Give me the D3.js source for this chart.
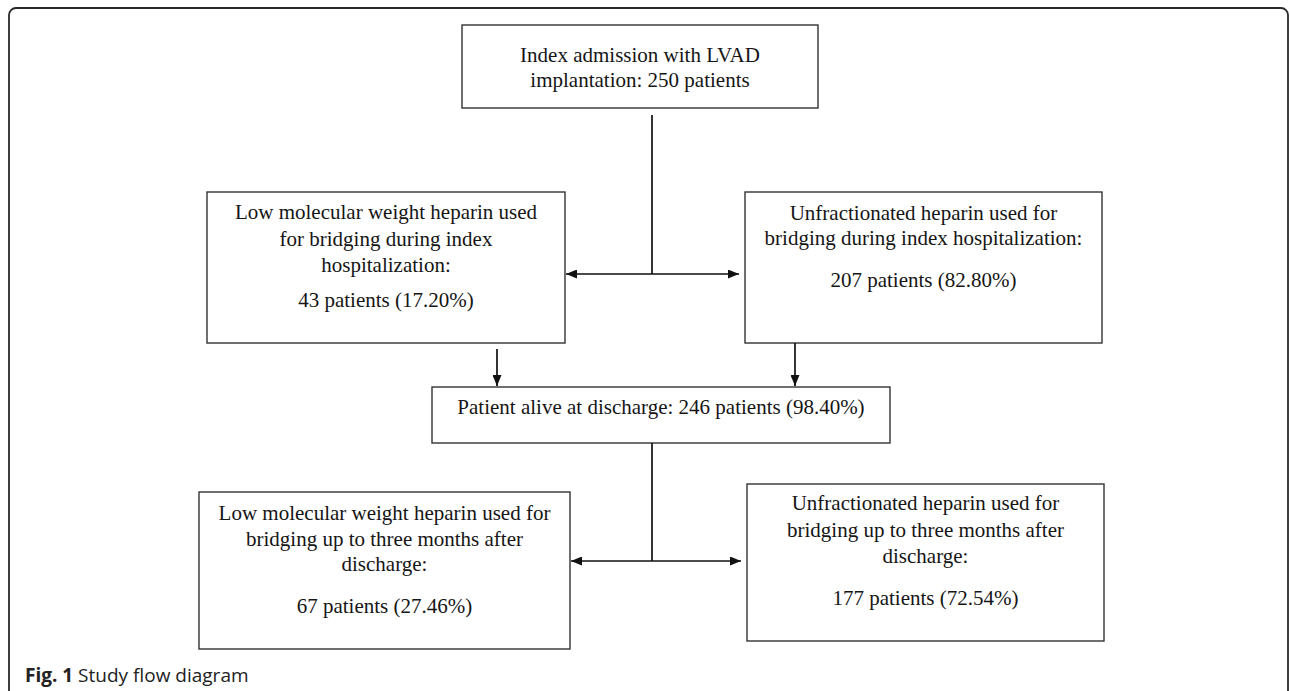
<!DOCTYPE html>
<html>
<head>
<meta charset="utf-8">
<script src="https://cdn.jsdelivr.net/npm/d3@7"></script>
<style>
  html, body { margin: 0; padding: 0; background: #fff; }
  svg { display: block; }
</style>
</head>
<body>
<div id="chart"></div>
<script>
// flow data
const nodeIds = ['admission', 'lmwhIndex', 'ufhIndex', 'alive', 'lmwhPost', 'ufhPost'];
const patientCounts = [250, 43, 207, 246, 67, 177];
const patientShares = [null, '17.20%', '82.80%', '98.40%', '27.46%', '72.54%'];
const nodeText = [
    ['Index admission with LVAD', `implantation: ${patientCounts[0]} patients`],
    ['Low molecular weight heparin used', 'for bridging during index', 'hospitalization:'],
    ['Unfractionated heparin used for', 'bridging during index hospitalization:'],
    [`Patient alive at discharge: ${patientCounts[3]} patients (${patientShares[3]})`],
    ['Low molecular weight heparin used for', 'bridging up to three months after', 'discharge:'],
    ['Unfractionated heparin used for', 'bridging up to three months after', 'discharge:']
];
const hasCountLine = [false, true, true, false, true, true];
const splits = [
    { from: 'admission', to: ['lmwhIndex', 'ufhIndex'] },
    { from: 'alive', to: ['lmwhPost', 'ufhPost'] }
];
const merges = [
    { from: ['lmwhIndex', 'ufhIndex'], to: 'alive' }
];
const caption = ['Fig. 1', 'Study flow diagram'];

// layout (pixels)
const width = 1290;
const height = 691;
const layout = {
    admission: { x: 462, y: 25, w: 356, h: 83, top: 37, lead: 25 },
    lmwhIndex: { x: 207, y: 192, w: 358, h: 151, top: 27, lead: 26.5, gap: 35 },
    ufhIndex: { x: 745, y: 192, w: 357, h: 151, top: 28, lead: 25, gap: 42 },
    alive: { x: 432, y: 387, w: 458, h: 56, top: 27, lead: 26 },
    lmwhPost: { x: 199, y: 492, w: 371, h: 157, top: 28, lead: 25.5, gap: 42 },
    ufhPost: { x: 747, y: 484, w: 357, h: 157, top: 26, lead: 26.5, gap: 42 }
};
const splitGeom = [
    { trunkX: 652, top: 115, branchY: 274 },
    { trunkX: 652, top: 443, branchY: 561 }
];
const mergeGeom = [
    { dropX: [497, 795], start: [349, 343] }
];

const nodes = nodeIds.map((id, i) => {
    const lines = nodeText[i].slice();
    const countLine = hasCountLine[i] ? `${patientCounts[i]} patients (${patientShares[i]})` : null;
    return Object.assign({ id, lines, countLine }, layout[id]);
});
const byId = new Map(nodes.map(d => [d.id, d]));

const svg = d3.select('#chart').append('svg')
    .attr('width', width)
    .attr('height', height)
    .attr('viewBox', `0 0 ${width} ${height}`);

svg.append('defs').append('marker')
    .attr('id', 'arrow')
    .attr('markerUnits', 'userSpaceOnUse')
    .attr('markerWidth', 11)
    .attr('markerHeight', 9)
    .attr('refX', 11)
    .attr('refY', 4.5)
    .attr('orient', 'auto')
    .append('path')
    .attr('d', 'M0,0L11,4.5L0,9Z')
    .attr('fill', '#111');

// figure frame
svg.append('rect')
    .attr('x', 9)
    .attr('y', 8)
    .attr('width', 1279)
    .attr('height', 720)
    .attr('rx', 7)
    .attr('fill', 'none')
    .attr('stroke', '#2a2a2a')
    .attr('stroke-width', 1.8);

// boxes
const box = svg.append('g')
    .selectAll('g')
    .data(nodes)
    .enter()
    .append('g')
    .attr('transform', d => `translate(${d.x},${d.y})`);

box.append('rect')
    .attr('width', d => d.w)
    .attr('height', d => d.h)
    .attr('fill', '#fff')
    .attr('stroke', '#333')
    .attr('stroke-width', 1.4);

const label = box.append('text')
    .attr('text-anchor', 'middle')
    .attr('font-family', '"Liberation Serif", "Times New Roman", serif')
    .attr('font-size', '21px')
    .attr('fill', '#151515');

label.selectAll('tspan.line')
    .data(d => d.lines.map((t, i) => ({ t, x: d.w / 2, y: d.top + i * d.lead })))
    .enter()
    .append('tspan')
    .attr('class', 'line')
    .attr('x', d => d.x)
    .attr('y', d => d.y)
    .text(d => d.t);

label.filter(d => d.countLine)
    .append('tspan')
    .attr('x', d => d.w / 2)
    .attr('y', d => d.top + (d.lines.length - 1) * d.lead + d.gap)
    .text(d => d.countLine);

// connectors
const links = svg.append('g')
    .attr('fill', 'none')
    .attr('stroke', '#111')
    .attr('stroke-width', 1.7);

splits.forEach((s, i) => {
    const g = splitGeom[i];
    const left = byId.get(s.to[0]);
    const right = byId.get(s.to[1]);
    links.append('line')
        .attr('x1', g.trunkX).attr('y1', g.top)
        .attr('x2', g.trunkX).attr('y2', g.branchY);
    links.append('line')
        .attr('x1', g.trunkX).attr('y1', g.branchY)
        .attr('x2', left.x + left.w + 1).attr('y2', g.branchY)
        .attr('marker-end', 'url(#arrow)');
    links.append('line')
        .attr('x1', g.trunkX).attr('y1', g.branchY)
        .attr('x2', right.x - 6).attr('y2', g.branchY)
        .attr('marker-end', 'url(#arrow)');
});

merges.forEach((m, i) => {
    const g = mergeGeom[i];
    const target = byId.get(m.to);
    m.from.forEach((id, j) => {
        links.append('line')
            .attr('x1', g.dropX[j]).attr('y1', g.start[j])
            .attr('x2', g.dropX[j]).attr('y2', target.y - 1)
            .attr('marker-end', 'url(#arrow)');
    });
});

// caption
const cap = svg.append('text')
    .attr('x', 25)
    .attr('y', 682)
    .attr('font-family', '"Open Sans", "Noto Sans", sans-serif')
    .attr('font-size', '19px')
    .attr('fill', '#222');
cap.append('tspan').attr('font-weight', 'bold').text(caption[0]);
cap.append('tspan').text(' ' + caption[1]);
</script>
</body>
</html>
